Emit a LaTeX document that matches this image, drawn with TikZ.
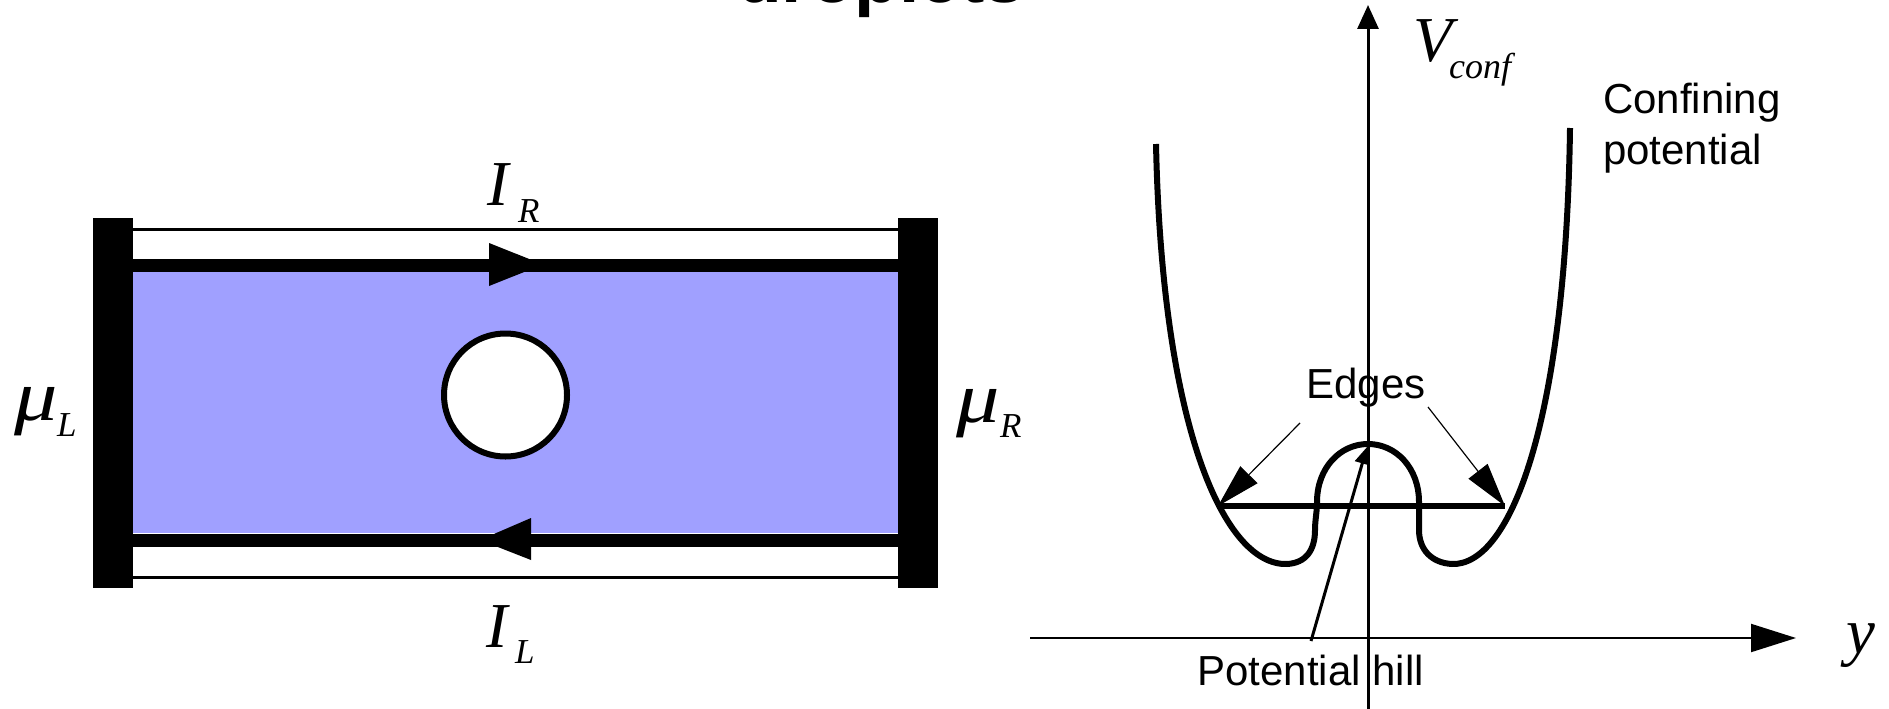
\documentclass[tikz,border=0pt]{standalone}
\usepackage{fontspec}
\setmainfont{Liberation Serif}
\setsansfont{Liberation Sans}
\usetikzlibrary{arrows.meta}
\definecolor{dropblue}{RGB}{160,160,255}
\begin{document}
\begin{tikzpicture}[x=1pt,y=-1pt,
  bigmath/.style={font=\fontsize{64}{64}\selectfont\itshape, inner sep=0pt, anchor=base west},
  submath/.style={font=\fontsize{35}{35}\selectfont\itshape, inner sep=0pt, anchor=base west},
  greek/.style={font=\fontsize{72}{72}\selectfont\itshape, inner sep=0pt, anchor=base west},
  sanslabel/.style={font=\sffamily\fontsize{42}{42}\selectfont, inner sep=0pt},
  contact/.style={fill=black, draw=none, minimum width=40pt, minimum height=370pt, inner sep=0pt},
  edgechan/.style={line width=13pt},
  thinchan/.style={line width=3pt},
  potcurve/.style={line width=6pt, line join=round, line cap=butt},
  pointer/.style={line width=1.2pt, -{Triangle[length=44pt,width=24pt]}}
]
\useasboundingbox (0,0) rectangle (1889,709);
\clip (0,0) rectangle (1889,709);

% cut-off title
\node[font=\sffamily\bfseries\fontsize{73}{73}\selectfont, inner sep=0pt, anchor=base west] (title) at (737,3) {droplets};

% ---------- left figure ----------
\fill[dropblue] (131,272) rectangle (900,533);
\coordinate (ttl) at (131,229.5); \coordinate (ttr) at (900,229.5);
\coordinate (tkl) at (131,265.5); \coordinate (tkr) at (900,265.5);
\coordinate (bkl) at (131,540);   \coordinate (bkr) at (900,540);
\coordinate (btl) at (131,577);   \coordinate (btr) at (900,577);
\draw[thinchan] (ttl) -- (ttr);
\draw[thinchan] (btl) -- (btr);
\draw[edgechan] (tkl) -- (tkr);
\draw[edgechan] (bkl) -- (bkr);
\fill (489,243) -- (543,264.5) -- (489,286) -- cycle;
\fill (531,518) -- (480,540) -- (531,560) -- cycle;
\node[contact] (LC) at (113,403) {};
\node[contact] (RC) at (918,403) {};
\node[circle, draw, line width=6pt, fill=white, minimum size=123pt, inner sep=0pt] (hole) at (505.5,395) {};

\node[bigmath] (IR) at (487,205) {I};
\node[submath] (IRs) at (518,222) {R};
\node[bigmath] (IL) at (486,647) {I};
\node[submath] (ILs) at (515,663) {L};
\node[greek] (muL) at (14,420) {\scalebox{1.2}[1]{μ}};
\node[submath] (muLs) at (57,436) {L};
\node[greek] (muR) at (956,422) {\scalebox{1.2}[1]{μ}};
\node[submath] (muRs) at (1000,437) {R};

% ---------- right figure ----------
\node[bigmath] (V) at (1413,62) {V};
\node[font=\fontsize{36}{36}\selectfont\itshape, inner sep=0pt, anchor=base west] (Vs) at (1449,78) {conf};
\node[font=\fontsize{65}{65}\selectfont\itshape, inner sep=0pt, anchor=base west] (ylab) at (1846,653) {y};
\node[sanslabel, anchor=base west] (conf1) at (1603,113) {Confining};
\node[sanslabel, anchor=base west] (conf2) at (1603,164) {potential};
\node[sanslabel, anchor=base] (edges) at (1366,398) {Edges};
\node[sanslabel, anchor=base] (hill) at (1310.5,685) {Potential hill};

\coordinate (vbot) at (1368,712); \coordinate (vtop) at (1368,5);
\draw[line width=3pt, -{Triangle[length=24pt,width=21pt]}] (vbot) -- (vtop);
\coordinate (hl) at (1030,638); \coordinate (hr) at (1796,638);
\draw[line width=2pt, -{Triangle[length=45pt,width=28pt]}] (hl) -- (hr);

\draw[potcurve] (1156,144) .. controls (1162,430) and (1225,566) .. (1287,564)
  .. controls (1306,563) and (1315,550) .. (1315,530)
  .. controls (1315,520) and (1317,512) .. (1317,502)
  .. controls (1317,468) and (1340,444) .. (1368,444)
  .. controls (1396,444) and (1419,468) .. (1419,502)
  -- (1419,530)
  .. controls (1419,550) and (1432,563) .. (1452,564)
  .. controls (1511,566) and (1566,420) .. (1570,128);

\coordinate (eL) at (1218,506); \coordinate (eR) at (1505,506);
\draw[line width=6pt] (eL) -- (eR);
\coordinate (ea1) at (1300,423); \coordinate (ea2) at (1428,407);
\draw[pointer] (ea1) -- (eL);
\draw[pointer] (ea2) -- (eR);
\coordinate (hilltop) at (1367,447); \coordinate (hillfoot) at (1311,641);
\draw[line width=3pt, -{Triangle[length=17pt,width=15pt]}] (hillfoot) -- (hilltop);
\end{tikzpicture}
\end{document}
